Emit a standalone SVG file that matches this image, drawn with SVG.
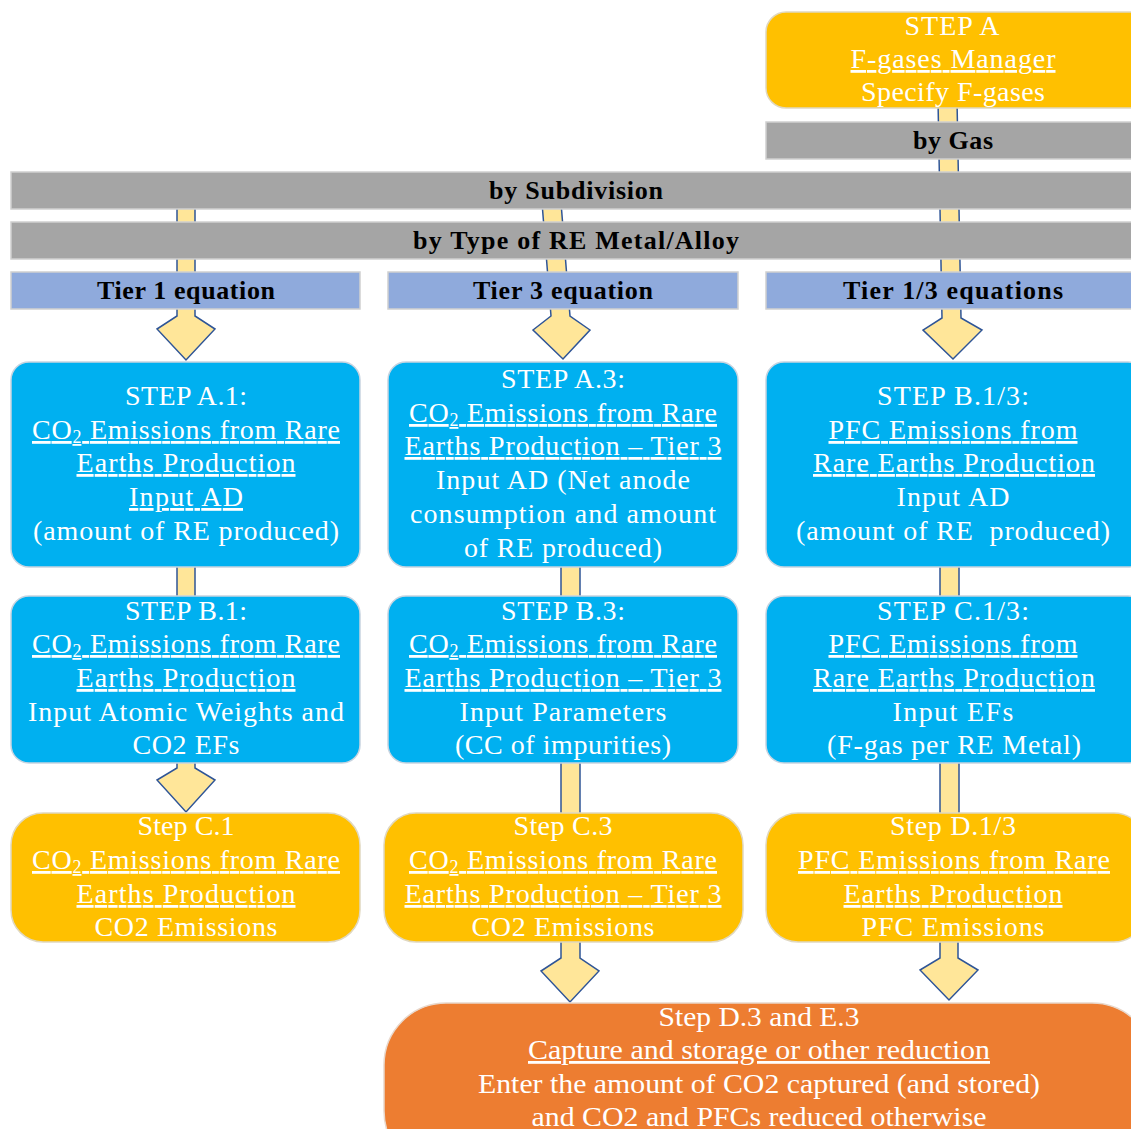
<svg xmlns="http://www.w3.org/2000/svg" width="1131" height="1129" viewBox="0 0 1131 1129">
  <style>
    .bar { fill: #A5A5A5; stroke: #D0D0D0; stroke-width: 1.5; }
    .tier { fill: #8FAADC; stroke: #D0D0D0; stroke-width: 1.5; }
    .blue { fill: #00B0F0; stroke: #C8D4E0; stroke-width: 1.5; }
    .yel { fill: #FFC000; stroke: #E0D8C0; stroke-width: 1.5; }
    .org { fill: #ED7D31; stroke: #E8D8CC; stroke-width: 1.5; }
    .arw { fill: #FFE699; stroke: #2F5597; stroke-width: 1.5; stroke-linejoin: miter; }
    .t { font-family: "Liberation Serif", "Times New Roman", serif; font-size: 28px; fill: #FFFFFF; text-anchor: middle; }
    .h { font-family: "Liberation Serif", "Times New Roman", serif; font-size: 26px; font-weight: bold; fill: #000000; text-anchor: middle; }
    .u { text-decoration: underline; }
    .s { font-size: 18px; }
    .pre { white-space: pre; }
  </style>

  <!-- flow connectors (drawn beneath the nodes) -->
  <g id="connectors">
    <!-- column 1 -->
    <polygon class="arw" points="177,190 195,190 195,316 215,329 186,360 157,329 177,316"/>
    <rect class="arw" x="177" y="560" width="18" height="42"/>
    <polygon class="arw" points="177,755 195,755 195,768 215,780 186,812 157,780 177,768"/>
    <!-- column 2 -->
    <polygon class="arw" points="541,190 560,190 570,316 590,330 563,359 533,330 551,316"/>
    <rect class="arw" x="561" y="560" width="19" height="42"/>
    <rect class="arw" x="561" y="755" width="19" height="66"/>
    <polygon class="arw" points="561,935 580,935 580,958 599,971 570,1002 541,971 561,958"/>
    <!-- column 3 -->
    <polygon class="arw" points="938,100 957,100 961,318 982,330 953,359 923,330 942,318"/>
    <rect class="arw" x="940" y="560" width="19" height="42"/>
    <rect class="arw" x="940" y="755" width="19" height="66"/>
    <polygon class="arw" points="940,935 958,935 958,958 978,970 949,1000 920,970 940,958"/>
  </g>

  <!-- F-gases manager -->
  <g id="stepA">
    <rect class="yel" x="766" y="12" width="390" height="96" rx="20"/>
    <text class="t" x="952" y="35" textLength="95">STEP A</text>
    <text class="t u" x="953" y="68" textLength="205">F-gases Manager</text>
    <text class="t" x="953" y="101" textLength="184">Specify F-gases</text>
  </g>

  <!-- grouping bars -->
  <g id="byGas">
    <rect class="bar" x="766" y="122" width="380" height="37"/>
    <text class="h" x="953" y="149" textLength="80">by Gas</text>
  </g>
  <g id="bySubdivision">
    <rect class="bar" x="11" y="172" width="1135" height="37"/>
    <text class="h" x="576" y="199" textLength="174">by Subdivision</text>
  </g>
  <g id="byType">
    <rect class="bar" x="11" y="222" width="1135" height="37"/>
    <text class="h" x="576" y="249" textLength="326">by Type of RE Metal/Alloy</text>
  </g>

  <!-- tier headers -->
  <g id="tier1">
    <rect class="tier" x="11" y="272" width="349" height="37"/>
    <text class="h" x="186" y="299" textLength="178">Tier 1 equation</text>
  </g>
  <g id="tier3">
    <rect class="tier" x="388" y="272" width="350" height="37"/>
    <text class="h" x="563" y="299" textLength="180">Tier 3 equation</text>
  </g>
  <g id="tier13">
    <rect class="tier" x="766" y="272" width="380" height="37"/>
    <text class="h" x="953" y="299" textLength="220">Tier 1/3 equations</text>
  </g>

  <!-- activity data -->
  <g id="stepA1">
    <rect class="blue" x="11" y="362" width="349" height="205" rx="18"/>
    <text class="t" x="186" y="405" textLength="122">STEP A.1:</text>
    <text class="t u" x="186" y="439" textLength="308">CO<tspan class="s" dy="4">2</tspan><tspan dy="-4"> Emissions from Rare</tspan></text>
    <text class="t u" x="186" y="472" textLength="219">Earths Production</text>
    <text class="t u" x="186" y="506" textLength="114">Input AD</text>
    <text class="t" x="186" y="540" textLength="306">(amount of RE produced)</text>
  </g>
  <g id="stepA3">
    <rect class="blue" x="388" y="362" width="350" height="205" rx="18"/>
    <text class="t" x="563" y="388" textLength="124">STEP A.3:</text>
    <text class="t u" x="563" y="422" textLength="308">CO<tspan class="s" dy="4">2</tspan><tspan dy="-4"> Emissions from Rare</tspan></text>
    <text class="t u" x="563" y="455" textLength="317">Earths Production – Tier 3</text>
    <text class="t" x="563" y="489" textLength="254">Input AD (Net anode</text>
    <text class="t" x="563" y="523" textLength="306">consumption and amount</text>
    <text class="t" x="563" y="557" textLength="198">of RE produced)</text>
  </g>
  <g id="stepB13">
    <rect class="blue" x="766" y="362" width="380" height="205" rx="18"/>
    <text class="t" x="953" y="405" textLength="152">STEP B.1/3:</text>
    <text class="t u" x="953" y="439" textLength="249">PFC Emissions from</text>
    <text class="t u" x="954" y="472" textLength="282">Rare Earths Production</text>
    <text class="t" x="953" y="506" textLength="113">Input AD</text>
    <text class="t pre" x="953" y="540" textLength="314">(amount of RE  produced)</text>
  </g>

  <!-- parameters and emission factors -->
  <g id="stepB1">
    <rect class="blue" x="11" y="596" width="349" height="167" rx="18"/>
    <text class="t" x="186" y="620" textLength="122">STEP B.1:</text>
    <text class="t u" x="186" y="653" textLength="308">CO<tspan class="s" dy="4">2</tspan><tspan dy="-4"> Emissions from Rare</tspan></text>
    <text class="t u" x="186" y="687" textLength="219">Earths Production</text>
    <text class="t" x="186" y="721" textLength="316">Input Atomic Weights and</text>
    <text class="t" x="186" y="754" textLength="107">CO2 EFs</text>
  </g>
  <g id="stepB3">
    <rect class="blue" x="388" y="596" width="350" height="167" rx="18"/>
    <text class="t" x="563" y="620" textLength="124">STEP B.3:</text>
    <text class="t u" x="563" y="653" textLength="308">CO<tspan class="s" dy="4">2</tspan><tspan dy="-4"> Emissions from Rare</tspan></text>
    <text class="t u" x="563" y="687" textLength="317">Earths Production – Tier 3</text>
    <text class="t" x="563" y="721" textLength="207">Input Parameters</text>
    <text class="t" x="563" y="754" textLength="216">(CC of impurities)</text>
  </g>
  <g id="stepC13">
    <rect class="blue" x="766" y="596" width="380" height="167" rx="18"/>
    <text class="t" x="953" y="620" textLength="152">STEP C.1/3:</text>
    <text class="t u" x="953" y="653" textLength="249">PFC Emissions from</text>
    <text class="t u" x="954" y="687" textLength="282">Rare Earths Production</text>
    <text class="t" x="953" y="721" textLength="121">Input EFs</text>
    <text class="t" x="954" y="754" textLength="254">(F-gas per RE Metal)</text>
  </g>

  <!-- emission results -->
  <g id="stepC1">
    <rect class="yel" x="11" y="813" width="349" height="129" rx="32"/>
    <text class="t" x="186" y="835" textLength="97">Step C.1</text>
    <text class="t u" x="186" y="869" textLength="308">CO<tspan class="s" dy="4">2</tspan><tspan dy="-4"> Emissions from Rare</tspan></text>
    <text class="t u" x="186" y="903" textLength="219">Earths Production</text>
    <text class="t" x="186" y="936" textLength="183">CO2 Emissions</text>
  </g>
  <g id="stepC3">
    <rect class="yel" x="384" y="813" width="359" height="129" rx="32"/>
    <text class="t" x="563" y="835" textLength="99">Step C.3</text>
    <text class="t u" x="563" y="869" textLength="308">CO<tspan class="s" dy="4">2</tspan><tspan dy="-4"> Emissions from Rare</tspan></text>
    <text class="t u" x="563" y="903" textLength="317">Earths Production – Tier 3</text>
    <text class="t" x="563" y="936" textLength="183">CO2 Emissions</text>
  </g>
  <g id="stepD13">
    <rect class="yel" x="766" y="813" width="380" height="129" rx="32"/>
    <text class="t" x="953" y="835" textLength="126">Step D.1/3</text>
    <text class="t u" x="954" y="869" textLength="312">PFC Emissions from Rare</text>
    <text class="t u" x="953" y="903" textLength="219">Earths Production</text>
    <text class="t" x="953" y="936" textLength="183">PFC Emissions</text>
  </g>

  <!-- capture and reduction -->
  <g id="stepDE3">
    <rect class="org" x="384" y="1003" width="770" height="170" rx="62"/>
    <text class="t" x="759" y="1026" textLength="201" lengthAdjust="spacingAndGlyphs">Step D.3 and E.3</text>
    <text class="t u" x="759" y="1059" textLength="462" lengthAdjust="spacingAndGlyphs">Capture and storage or other reduction</text>
    <text class="t" x="759" y="1093" textLength="562" lengthAdjust="spacingAndGlyphs">Enter the amount of CO2 captured (and stored)</text>
    <text class="t" x="759" y="1126" textLength="455" lengthAdjust="spacingAndGlyphs">and CO2 and PFCs reduced otherwise</text>
  </g>
</svg>
